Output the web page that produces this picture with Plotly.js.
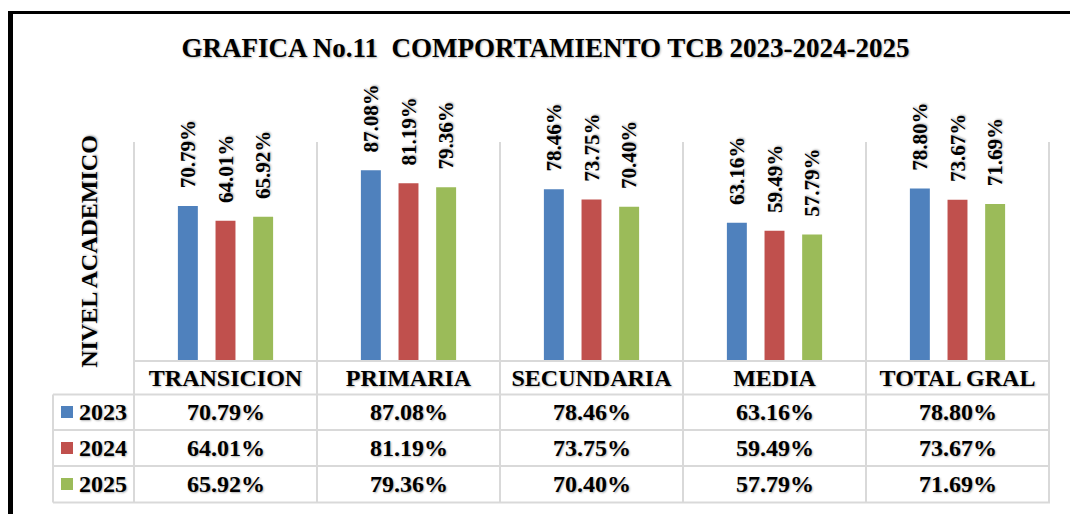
<!DOCTYPE html>
<html><head><meta charset="utf-8">
<script src="https://cdn.plot.ly/plotly-3.0.1.min.js"></script>
<style>html,body{margin:0;padding:0;background:#fff}#chart{width:1070px;height:514px}</style>
</head><body><div id="chart"></div>
<script>
const categories = ['TRANSICION','PRIMARIA','SECUNDARIA','MEDIA','TOTAL GRAL'];
const years = ['2023','2024','2025'];
const values2023 = [70.79, 87.08, 78.46, 63.16, 78.80];
const values2024 = [64.01, 81.19, 73.75, 59.49, 73.67];
const values2025 = [65.92, 79.36, 70.40, 57.79, 71.69];
const seriesColors = ['#4F81BD','#C0504D','#9BBB59'];
const chartTitle = 'GRAFICA No.11\u00a0 COMPORTAMIENTO TCB 2023-2024-2025';
const yTitle = 'NIVEL ACADEMICO';

const W=1070,H=514, L=133, R=1050, T=142, B=361;
const pw=R-L, ph=B-T;
const px = x => (x-L)/pw;
const py = y => (B-y)/ph;
const FONT='Liberation Serif, Times New Roman, serif';
const shadow='1px 1px 2px rgba(0,0,0,0.3)';
const fmt = v => v.toFixed(2)+'%';
const series=[values2023,values2024,values2025];
const gridColor='#D9D9D9';

const traces = series.map((vals,i)=>({
  type:'bar', name:years[i], x:categories, y:vals,
  marker:{color:seriesColors[i], line:{width:0}},
  text: vals.map(v=>'\u2002\u2009'+fmt(v)), textposition:'outside', textangle:-90,
  constraintext:'none', cliponaxis:false,
  textfont:{family:FONT,size:21,color:'#000',weight:'bold',shadow:shadow},
  hoverinfo:'skip'
}));

const shapes=[];
const annotations=[];
for(let j=0;j<=categories.length;j++){
  shapes.push({type:'line',xref:'x',yref:'paper',x0:j-0.5,x1:j-0.5,y0:py(502.5),y1:1,line:{color:gridColor,width:2}});
}
shapes.push({type:'line',xref:'paper',yref:'paper',x0:0,x1:1,y0:0,y1:0,line:{color:gridColor,width:2}});
[394.5,430,466,502.5].forEach(y=>{
  shapes.push({type:'line',xref:'paper',yref:'paper',x0:px(53),x1:1,y0:py(y),y1:py(y),line:{color:gridColor,width:2}});
});
shapes.push({type:'line',xref:'paper',yref:'paper',x0:px(53),x1:px(53),y0:py(394.5),y1:py(502.5),line:{color:gridColor,width:2}});
shapes.push({type:'line',xref:'paper',yref:'paper',x0:px(8),x1:px(1080),y0:py(12.5),y1:py(12.5),line:{color:'#000',width:3}});
shapes.push({type:'line',xref:'paper',yref:'paper',x0:px(10.5),x1:px(10.5),y0:py(11),y1:py(530),line:{color:'#000',width:5}});

const rowCenters=[412,448,484];
series.forEach((vals,i)=>{
  const yc=rowCenters[i];
  shapes.push({type:'rect',xref:'paper',yref:'paper',x0:px(61),x1:px(73),y0:py(yc+6),y1:py(yc-6),fillcolor:seriesColors[i],line:{width:0}});
  annotations.push({xref:'paper',yref:'paper',x:px(77),y:py(yc),xanchor:'left',yanchor:'middle',showarrow:false,text:years[i],
    font:{family:FONT,size:24,color:'#000',weight:'bold',shadow:shadow}});
  vals.forEach((v,j)=>{
    annotations.push({xref:'x',yref:'paper',x:categories[j],y:py(yc),xanchor:'center',yanchor:'middle',showarrow:false,text:fmt(v),
      font:{family:FONT,size:24,color:'#000',weight:'bold',shadow:shadow}});
  });
});

const layout={
  width:W,height:H,margin:{l:L,r:W-R,t:T,b:H-B,pad:0},
  paper_bgcolor:'#fff',plot_bgcolor:'rgba(0,0,0,0)',
  showlegend:false,barmode:'group',bargap:0.383,bargroupgap:0.47,
  title:{text:chartTitle,xref:'container',x:545.5/W,xanchor:'center',yref:'container',y:1-48/H,yanchor:'middle',
    font:{family:FONT,size:27,color:'#000',weight:'bold',shadow:shadow}},
  xaxis:{type:'category',showgrid:false,zeroline:false,showline:false,ticks:'',automargin:false,
    tickfont:{family:FONT,size:24,color:'#000',weight:'bold',shadow:shadow},fixedrange:true},
  yaxis:{range:[0,100],showgrid:false,zeroline:false,showline:false,showticklabels:false,ticks:'',automargin:false,fixedrange:true,
    title:{text:yTitle,standoff:27,font:{family:FONT,size:24,color:'#000',weight:'bold',shadow:shadow}}},
  shapes:shapes,annotations:annotations
};
Plotly.newPlot('chart',traces,layout,{displayModeBar:false,staticPlot:true});
</script></body></html>
